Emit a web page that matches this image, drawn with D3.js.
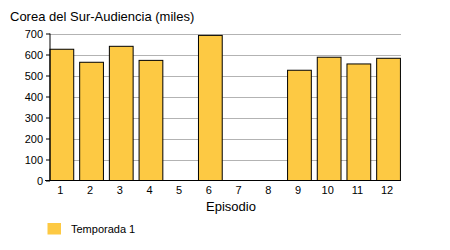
<!DOCTYPE html>
<html>
<head>
<meta charset="utf-8">
<script src="https://cdn.jsdelivr.net/npm/d3@7"></script>
<style>
  body { margin: 0; background: #fff; }
  text { font-family: "Liberation Sans", Arial, sans-serif; fill: #000; }
</style>
</head>
<body>
<div id="chart"></div>
<script>
const episodes = ["1", "2", "3", "4", "5", "6", "7", "8", "9", "10", "11", "12"];
const audience = [625, 563, 639, 572, null, 691, null, null, 525, 587, 555, 582];
const yTicks = [0, 100, 200, 300, 400, 500, 600, 700];
const seriesName = "Temporada 1";

const width = 450, height = 250;
const plot = { left: 50, right: 401, top: 33.5, bottom: 180.5 };

const svg = d3.select("#chart").append("svg")
  .attr("width", width)
  .attr("height", height);

const x = d3.scaleBand()
  .domain(episodes)
  .range([47, 403.4])
  .paddingInner(0.2)
  .paddingOuter(0.1);

const y = d3.scaleLinear()
  .domain([0, 700])
  .range([plot.bottom, plot.top]);

// gridlines
svg.append("g")
  .selectAll("line")
  .data(yTicks.filter(d => d > 0))
  .join("line")
  .attr("x1", plot.left)
  .attr("x2", plot.right)
  .attr("y1", d => Math.round(y(d)) + 0.5)
  .attr("y2", d => Math.round(y(d)) + 0.5)
  .attr("stroke", "#b3b3b3")
  .attr("stroke-width", 1);

// bars
const data = episodes.map((e, i) => ({ ep: e, value: audience[i] }));
svg.append("g")
  .selectAll("rect")
  .data(data.filter(d => d.value != null))
  .join("rect")
  .attr("x", d => x(d.ep))
  .attr("y", d => y(d.value))
  .attr("width", x.bandwidth())
  .attr("height", d => y(0) - y(d.value))
  .attr("fill", "#fdc943")
  .attr("stroke", "#000")
  .attr("stroke-width", 1);

// y axis
const yAxis = svg.append("g")
  .attr("transform", `translate(${plot.left},0)`)
  .call(d3.axisLeft(y).tickValues(yTicks).tickSize(4).tickPadding(3));
yAxis.select(".domain").remove();
yAxis.append("line")
  .attr("x1", 0).attr("x2", 0)
  .attr("y1", plot.top).attr("y2", plot.bottom)
  .attr("stroke", "#000");
yAxis.selectAll(".tick line").attr("stroke", "#000");
yAxis.selectAll("text")
  .attr("font-size", 11)
  .attr("font-family", "Liberation Sans, Arial, sans-serif");

// x axis
const xAxis = svg.append("g")
  .attr("transform", `translate(0,${plot.bottom})`)
  .call(d3.axisBottom(x).tickSize(0).tickPadding(6));
xAxis.select(".domain").remove();
xAxis.append("line")
  .attr("x1", 45).attr("x2", plot.right)
  .attr("y1", 0).attr("y2", 0)
  .attr("stroke", "#000");
xAxis.selectAll("text")
  .attr("font-size", 11)
  .attr("dx", -1.5)
  .attr("font-family", "Liberation Sans, Arial, sans-serif");

// title
svg.append("text")
  .attr("x", 10)
  .attr("y", 21)
  .attr("font-size", 13)
  .text("Corea del Sur-Audiencia (miles)");

// x axis title
svg.append("text")
  .attr("x", 231)
  .attr("y", 210.5)
  .attr("text-anchor", "middle")
  .attr("font-size", 13)
  .text("Episodio");

// legend
svg.append("rect")
  .attr("x", 47.5)
  .attr("y", 223)
  .attr("width", 13.5)
  .attr("height", 11.5)
  .attr("fill", "#fdc943");
svg.append("text")
  .attr("x", 71)
  .attr("y", 233)
  .attr("font-size", 11)
  .text(seriesName);
</script>
</body>
</html>
